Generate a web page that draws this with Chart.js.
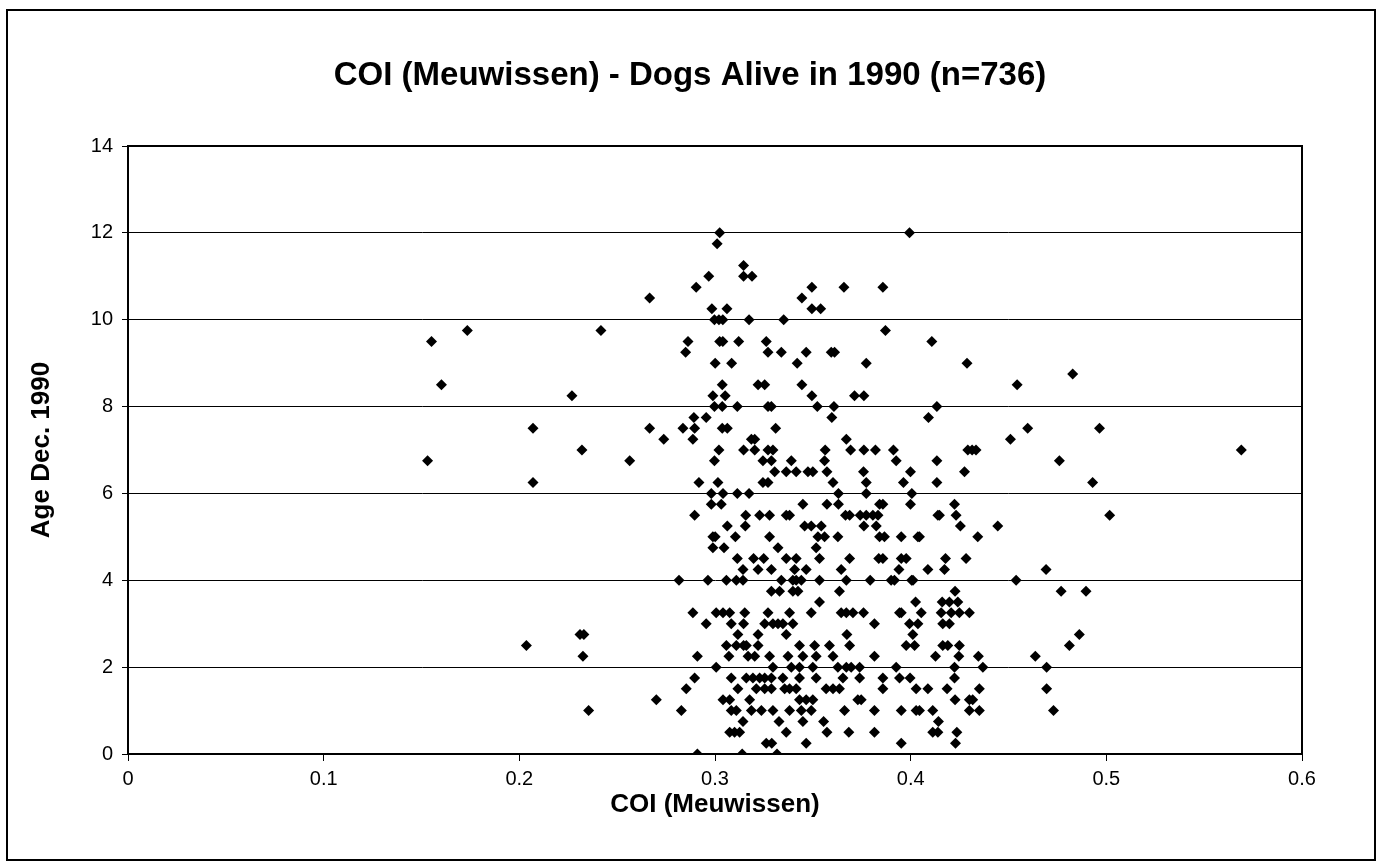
<!DOCTYPE html>
<html>
<head>
<meta charset="utf-8">
<script src="https://cdn.jsdelivr.net/npm/chart.js@4/dist/chart.umd.min.js"></script>
<style>
  html, body { margin: 0; padding: 0; background: #ffffff; }
  canvas { display: block; }
</style>
</head>
<body>
<canvas id="c" width="1380" height="867"></canvas>
<script>
// ---- Data ----
const chartTitle = 'COI (Meuwissen) - Dogs Alive in 1990 (n=736)';
const xTitle = 'COI (Meuwissen)';
const yTitle = 'Age Dec. 1990';
const xTicks = [0, 0.1, 0.2, 0.3, 0.4, 0.5, 0.6];
const yTicks = [0, 2, 4, 6, 8, 10, 12, 14];

// Age levels (years) and the COI values of the dogs plotted at each level
const ageLevels = [12, 11.75, 11.25, 11, 10.75, 10.5, 10.25, 10, 9.75, 9.5, 9.25, 9, 8.75, 8.5, 8.25, 8, 7.75, 7.5, 7.25, 7, 6.75, 6.5, 6.25, 6, 5.75, 5.5, 5.25, 5, 4.75, 4.5, 4.25, 4, 3.75, 3.5, 3.25, 3, 2.75, 2.5, 2.25, 2, 1.75, 1.5, 1.25, 1, 0.75, 0.5, 0.25, 0];

const coiAt12    = [0.3024, 0.3994];
const coiAt11_75 = [0.3011];
const coiAt11_25 = [0.3146];
const coiAt11    = [0.2968, 0.3146, 0.3189];
const coiAt10_75 = [0.2904, 0.3495, 0.3659, 0.3858];
const coiAt10_5  = [0.2666, 0.3444];
const coiAt10_25 = [0.2984, 0.3061, 0.3495, 0.3540];
const coiAt10    = [0.2997, 0.3020, 0.3040, 0.3174, 0.3351];
const coiAt9_75  = [0.1734, 0.2417, 0.3871];
const coiAt9_5   = [0.1551, 0.2862, 0.3024, 0.3040, 0.3121, 0.3262, 0.4108];
const coiAt9_25  = [0.2850, 0.3271, 0.3339, 0.3466, 0.3594, 0.3611];
const coiAt9     = [0.3001, 0.3085, 0.3420, 0.3773, 0.4288];
const coiAt8_75  = [0.4828];
const coiAt8_5   = [0.1602, 0.3037, 0.3220, 0.3254, 0.3444, 0.4544];
const coiAt8_25  = [0.2269, 0.2989, 0.3052, 0.3495, 0.3713, 0.3761];
const coiAt8     = [0.2997, 0.3037, 0.3114, 0.3271, 0.3288, 0.3523, 0.3608, 0.4134];
const coiAt7_75  = [0.2892, 0.2955, 0.3597, 0.4091];
const coiAt7_5   = [0.2070, 0.2666, 0.2836, 0.2896, 0.3037, 0.3063, 0.3310, 0.4598, 0.4965];
const coiAt7_25  = [0.2738, 0.2887, 0.3186, 0.3203, 0.3671, 0.4510];
const coiAt7     = [0.2320, 0.3020, 0.3146, 0.3203, 0.3271, 0.3296, 0.3563, 0.3693, 0.3761, 0.3820, 0.3912, 0.4292, 0.4314, 0.4334, 0.5690];
const coiAt6_75  = [0.1531, 0.2564, 0.2997, 0.3245, 0.3288, 0.3390, 0.3560, 0.3926, 0.4134, 0.4760];
const coiAt6_5   = [0.3305, 0.3364, 0.3415, 0.3475, 0.3500, 0.3572, 0.3759, 0.3999, 0.4275];
const coiAt6_25  = [0.2070, 0.2918, 0.3015, 0.3245, 0.3271, 0.3603, 0.3773, 0.3963, 0.4134, 0.4930];
const coiAt6     = [0.2981, 0.3041, 0.3114, 0.3174, 0.3631, 0.3773, 0.4006];
const coiAt5_75  = [0.2981, 0.3032, 0.3449, 0.3572, 0.3631, 0.3841, 0.3858, 0.3999, 0.4224];
const coiAt5_5   = [0.2896, 0.3157, 0.3228, 0.3279, 0.3364, 0.3381, 0.3667, 0.3688, 0.3742, 0.3773, 0.3807, 0.3833, 0.4139, 0.4147, 0.4232, 0.5017];
const coiAt5_25  = [0.3063, 0.3155, 0.3458, 0.3492, 0.3543, 0.3761, 0.3824, 0.4254, 0.4445];
const coiAt5     = [0.2989, 0.3001, 0.3104, 0.3279, 0.3526, 0.3560, 0.3628, 0.3841, 0.3866, 0.3952, 0.4037, 0.4045, 0.4343];
const coiAt4_75  = [0.2989, 0.3046, 0.3322, 0.3517];
const coiAt4_5   = [0.3114, 0.3197, 0.3249, 0.3364, 0.3415, 0.3534, 0.3688, 0.3837, 0.3858, 0.3952, 0.3977, 0.4178, 0.4283];
const coiAt4_25  = [0.3143, 0.3220, 0.3288, 0.3407, 0.3466, 0.3645, 0.3940, 0.4088, 0.4173, 0.4692];
const coiAt4     = [0.2816, 0.2964, 0.3058, 0.3109, 0.3143, 0.3339, 0.3398, 0.3415, 0.3441, 0.3534, 0.3671, 0.3793, 0.3900, 0.3917, 0.4005, 0.4012, 0.4539];
const coiAt3_75  = [0.3288, 0.3330, 0.3398, 0.3424, 0.3636, 0.4227, 0.4769, 0.4896];
const coiAt3_5   = [0.3534, 0.4025, 0.4161, 0.4198, 0.4241];
const coiAt3_25  = [0.2887, 0.3006, 0.3041, 0.3075, 0.3152, 0.3271, 0.3381, 0.3492, 0.3645, 0.3671, 0.3705, 0.3759, 0.3943, 0.3952, 0.4054, 0.4156, 0.4207, 0.4249, 0.4300];
const coiAt3     = [0.2955, 0.3083, 0.3146, 0.3254, 0.3296, 0.3322, 0.3347, 0.3398, 0.3815, 0.3994, 0.4037, 0.4164, 0.4198];
const coiAt2_75  = [0.2310, 0.2330, 0.3117, 0.3220, 0.3364, 0.3674, 0.4011, 0.4862];
const coiAt2_5   = [0.2036, 0.3058, 0.3109, 0.3146, 0.3160, 0.3220, 0.3432, 0.3509, 0.3585, 0.3688, 0.3977, 0.4020, 0.4164, 0.4190, 0.4249, 0.4811];
const coiAt2_25  = [0.2325, 0.2910, 0.3071, 0.3169, 0.3203, 0.3279, 0.3373, 0.3449, 0.3517, 0.3603, 0.3815, 0.4127, 0.4246, 0.4346, 0.4637];
const coiAt2     = [0.3006, 0.3296, 0.3390, 0.3432, 0.3500, 0.3628, 0.3671, 0.3696, 0.3739, 0.3926, 0.4224, 0.4369, 0.4695];
const coiAt1_75  = [0.2896, 0.3083, 0.3160, 0.3194, 0.3228, 0.3254, 0.3288, 0.3347, 0.3432, 0.3517, 0.3654, 0.3739, 0.3858, 0.3943, 0.3997, 0.4224];
const coiAt1_5   = [0.2853, 0.3117, 0.3211, 0.3254, 0.3288, 0.3356, 0.3381, 0.3415, 0.3568, 0.3603, 0.3636, 0.3858, 0.4028, 0.4088, 0.4186, 0.4351, 0.4695];
const coiAt1_25  = [0.2700, 0.3041, 0.3075, 0.3177, 0.3432, 0.3466, 0.3500, 0.3730, 0.3747, 0.4227, 0.4300, 0.4317];
const coiAt1     = [0.2354, 0.2828, 0.3083, 0.3109, 0.3186, 0.3237, 0.3296, 0.3381, 0.3441, 0.3492, 0.3662, 0.3815, 0.3952, 0.4028, 0.4045, 0.4113, 0.4300, 0.4351, 0.4730];
const coiAt0_75  = [0.3143, 0.3327, 0.3449, 0.3555, 0.4142];
const coiAt0_5   = [0.3075, 0.3100, 0.3126, 0.3364, 0.3572, 0.3684, 0.3815, 0.4113, 0.4139, 0.4236];
const coiAt0_25  = [0.3262, 0.3290, 0.3466, 0.3952, 0.4229];
const coiAt0     = [0.2910, 0.3139, 0.3317];

const coiByAge = [coiAt12, coiAt11_75, coiAt11_25, coiAt11, coiAt10_75, coiAt10_5, coiAt10_25, coiAt10, coiAt9_75, coiAt9_5, coiAt9_25, coiAt9, coiAt8_75, coiAt8_5, coiAt8_25, coiAt8, coiAt7_75, coiAt7_5, coiAt7_25, coiAt7, coiAt6_75, coiAt6_5, coiAt6_25, coiAt6, coiAt5_75, coiAt5_5, coiAt5_25, coiAt5, coiAt4_75, coiAt4_5, coiAt4_25, coiAt4, coiAt3_75, coiAt3_5, coiAt3_25, coiAt3, coiAt2_75, coiAt2_5, coiAt2_25, coiAt2, coiAt1_75, coiAt1_5, coiAt1_25, coiAt1, coiAt0_75, coiAt0_5, coiAt0_25, coiAt0];

// ---- Build points ----
const points = [];
ageLevels.forEach((age, i) => {
  coiByAge[i].forEach(c => points.push({ x: c, y: age }));
});

const FONT = "'Liberation Sans', Arial, Helvetica, sans-serif";

const framePlugin = {
  id: 'frames',
  afterDraw(chart) {
    const { ctx, chartArea: a } = chart;
    ctx.save();
    ctx.strokeStyle = '#000';
    ctx.lineWidth = 2;
    ctx.strokeRect(a.left, a.top, a.right - a.left, a.bottom - a.top);
    ctx.strokeRect(7, 10, 1368, 850);
    ctx.restore();
  }
};

new Chart(document.getElementById('c'), {
  type: 'scatter',
  data: {
    datasets: [{
      label: 'Dogs',
      data: points,
      pointStyle: 'rectRot',
      pointRadius: 5.5,
      pointBackgroundColor: '#000',
      pointBorderColor: '#000',
      pointBorderWidth: 0,
      showLine: false
    }]
  },
  options: {
    responsive: false,
    devicePixelRatio: 1,
    animation: false,
    layout: { padding: 0 },
    plugins: {
      legend: { display: false },
      tooltip: { enabled: false },
      title: {
        display: true,
        text: chartTitle,
        color: '#000',
        font: { family: FONT, size: 33, weight: 'bold' },
        padding: { top: 56, bottom: 50.4 }
      }
    },
    scales: {
      x: {
        type: 'linear',
        position: 'bottom',
        min: xTicks[0],
        max: xTicks[xTicks.length - 1],
        afterBuildTicks(scale) { scale.ticks = xTicks.map(v => ({ value: v })); },
        afterFit(scale) { scale.height = 867 - 754; },
        ticks: {
          color: '#000',
          font: { family: FONT, size: 20 },
          padding: 6,
          maxRotation: 0,
          callback: v => String(v)
        },
        grid: { display: true, drawOnChartArea: false, color: '#000', lineWidth: 1, tickLength: 7 },
        border: { display: true, color: '#000', width: 2 },
        title: {
          display: true,
          text: xTitle,
          color: '#000',
          font: { family: FONT, size: 26, weight: 'bold' },
          padding: { top: 0, bottom: 47 }
        }
      },
      y: {
        type: 'linear',
        position: 'left',
        min: yTicks[0],
        max: yTicks[yTicks.length - 1],
        afterBuildTicks(scale) { scale.ticks = yTicks.map(v => ({ value: v })); },
        afterFit(scale) { scale.width = 128; },
        ticks: {
          color: '#000',
          font: { family: FONT, size: 20 },
          padding: 9,
          callback: v => String(v)
        },
        grid: { display: true, color: '#000', lineWidth: 1, tickLength: 6 },
        border: { display: true, color: '#000', width: 2 },
        title: {
          display: true,
          text: yTitle,
          color: '#000',
          font: { family: FONT, size: 26, weight: 'bold' },
          padding: { top: 26, bottom: 0 }
        }
      },
      yRight: {
        type: 'linear',
        position: 'right',
        min: yTicks[0],
        max: yTicks[yTicks.length - 1],
        afterFit(scale) { scale.width = 1380 - 1302; },
        ticks: { display: false },
        grid: { display: false },
        border: { display: false }
      }
    }
  },
  plugins: [framePlugin]
});
</script>
</body>
</html>
